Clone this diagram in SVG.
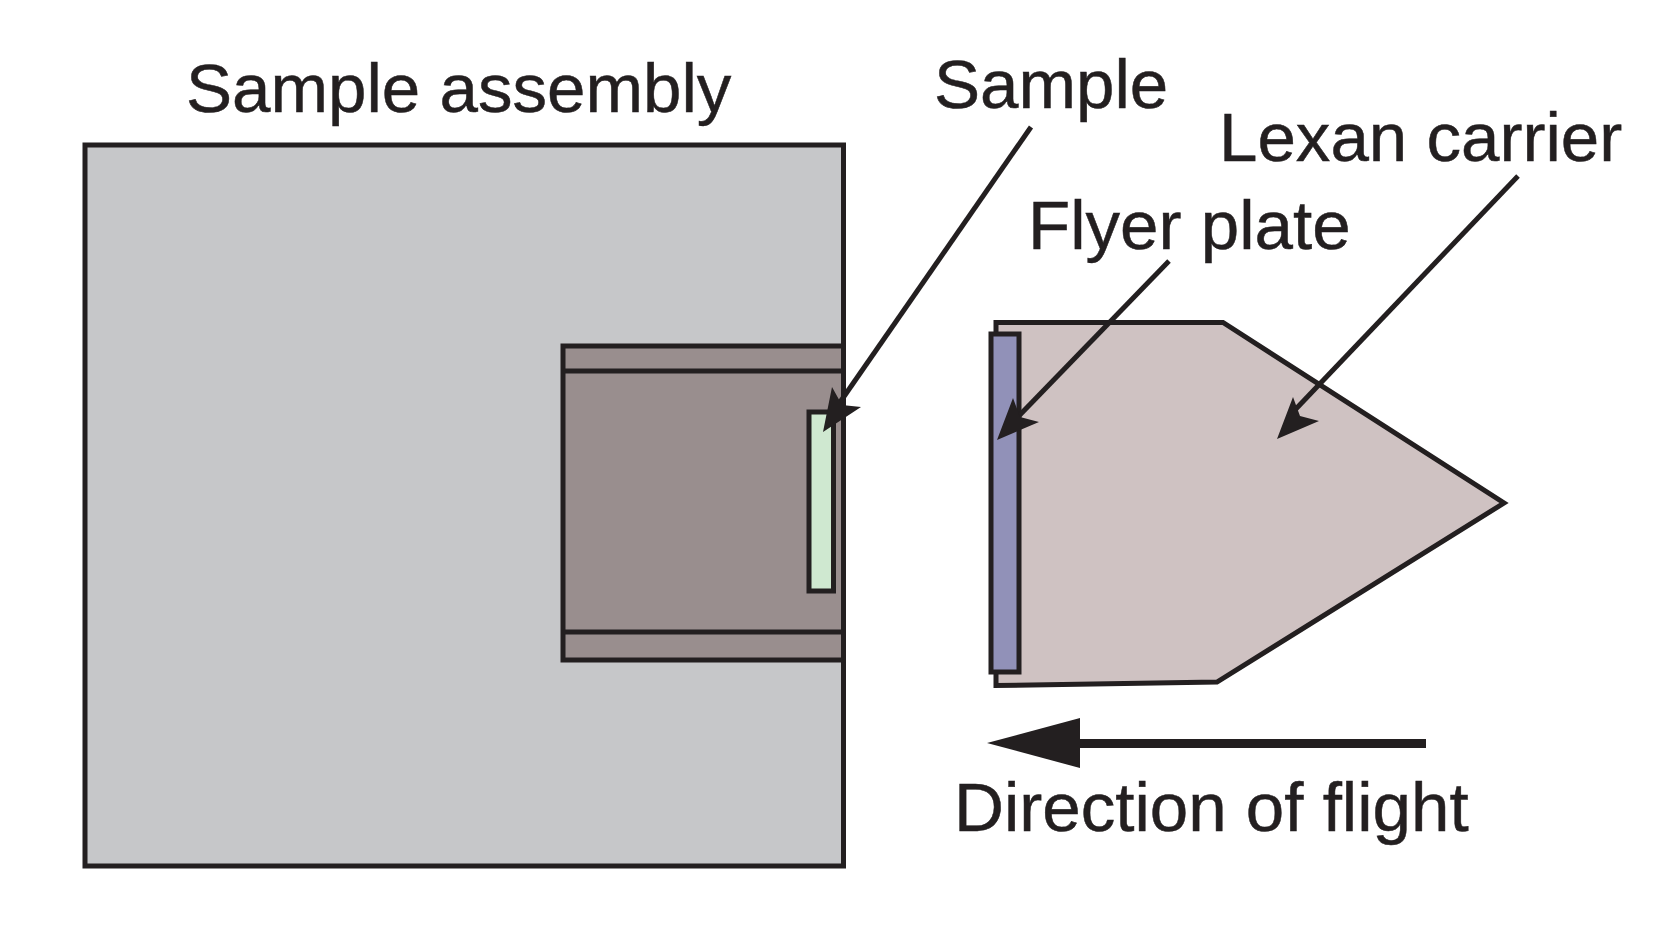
<svg xmlns="http://www.w3.org/2000/svg" width="1659" height="934" viewBox="0 0 1659 934">
<style>
.o{stroke:#231f20;stroke-width:5;stroke-miterlimit:10}
.t{font-family:"Liberation Sans",Arial,sans-serif;font-size:69.1px;fill:#231f20;stroke:#231f20;stroke-width:.5}
.l{stroke:#231f20;stroke-width:5;fill:none}
.h{fill:#231f20}
</style>
<rect width="1659" height="934" fill="#fff"/>
<g id="sample-assembly">
<rect class="o" x="85" y="145" width="758.5" height="721" fill="#c6c7c9"/>
<text class="t" x="186" y="112">Sample assembly</text>
</g>
<g id="holder">
<rect class="o" x="563" y="346" width="280.5" height="314" fill="#998e8e"/>
<path class="o" d="M563 371H843.500M563 632H843.500" fill="none"/>
</g>
<g id="sample">
<rect class="o" x="809" y="412" width="24.500" height="179" fill="#cfe8d0"/>
<text class="t" x="934" y="108">Sample</text>
</g>
<g id="lexan-carrier">
<path class="o" d="M996 322.500H1223L1504 503L1217 682L996 685.500Z" fill="#cfc2c2"/>
<text class="t" x="1219" y="161">Lexan carrier</text>
</g>
<g id="flyer-plate">
<rect class="o" x="991" y="334" width="28" height="338" fill="#9191b8"/>
<text class="t" x="1028" y="249">Flyer plate</text>
</g>
<g id="direction">
<text class="t" x="954" y="831">Direction of flight</text>
</g>
<g id="connectors">
<path class="l" d="M1031 127L836 408"/>
<path class="h" d="M823 432L832 387L842 405L861 407Z"/>
<path class="l" d="M1169 261L1012 423"/>
<path class="h" d="M997 440L1013 398L1020 417L1039 422Z"/>
<path class="l" d="M1518 176L1293 412"/>
<path class="h" d="M1277 439L1293 397L1300 416L1319 421Z"/>
<path d="M1426 743.500H1070" stroke="#231f20" stroke-width="9" fill="none"/>
<path class="h" d="M987 743L1080 718V768Z"/>
</g>
</svg>
